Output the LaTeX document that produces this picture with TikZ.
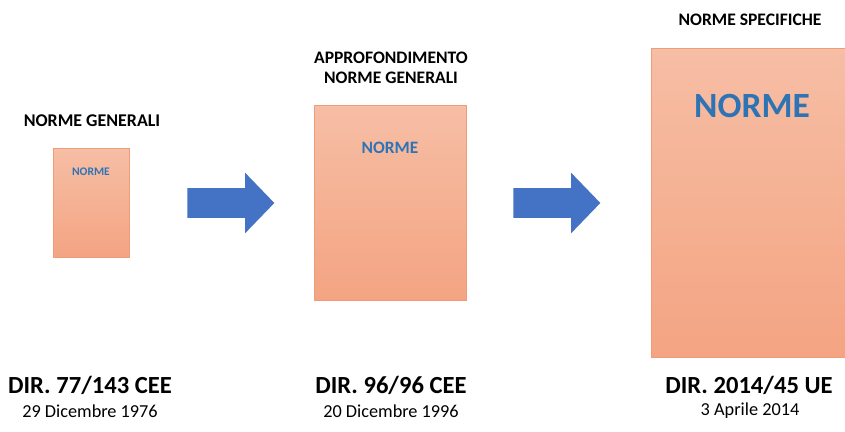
\documentclass[tikz,border=0pt]{standalone}
\usepackage{fontspec}
\setmainfont{Carlito}
\usepackage{xcolor}
\usetikzlibrary{shapes,arrows,positioning}

\definecolor{boxtop}{HTML}{F6BEA5}
\definecolor{boxbot}{HTML}{F4A482}
\definecolor{boxedge}{HTML}{EE9D78}
\definecolor{normeblue}{HTML}{2E74B5}
\definecolor{arrowblue}{HTML}{4472C4}

\begin{document}
\begin{tikzpicture}[
    x=0.02cm, y=-0.02cm,
    normebox/.style={rectangle, draw=boxedge, line width=0.4pt, top color=boxtop, bottom color=boxbot, inner sep=0pt},
    normetxt/.style={font=\bfseries, text=normeblue, inner sep=0pt},
    title/.style={font=\bfseries\fontsize{10}{11.4}\selectfont, align=center, inner sep=0pt},
    dir/.style={font=\bfseries\fontsize{14}{16}\selectfont, inner sep=0pt},
    date/.style={font=\fontsize{10.4}{12}\selectfont, inner sep=0pt},
    bigarrow/.style={single arrow, fill=arrowblue, draw=none, inner xsep=0pt, inner ysep=0.29cm,
        minimum height=1.74cm, single arrow head extend=0.31cm, single arrow tip angle=92, anchor=tail}
]
\useasboundingbox (0,0) rectangle (845,432);

% Boxes
\node[normebox, minimum width=1.52cm, minimum height=2.18cm] (box1) at (91,202.5) {};
\node[normebox, minimum width=3.04cm, minimum height=3.9cm] (box2) at (390,202.5) {};
\node[normebox, minimum width=3.9cm, minimum height=6.18cm] (box3) at (748.5,202.5) {};

% Text inside boxes
\node[normetxt, font=\bfseries\fontsize{6.6}{8}\selectfont] (norme1) at (91,172) {NORME};
\node[normetxt, font=\bfseries\fontsize{9.9}{12}\selectfont] (norme2) at (390,148) {NORME};
\node[normetxt, font=\bfseries\fontsize{20.2}{24}\selectfont] (norme3) at (752,106) {NORME};

% Titles
\node[title, font=\bfseries\fontsize{10.2}{12}\selectfont] (title1) at (92,121) {NORME GENERALI};
\node[title] (title2) at (391,68) {APPROFONDIMENTO\\NORME GENERALI};
\node[title] (title3) at (750,20) {NORME SPECIFICHE};

% Arrows
\node[bigarrow] (arrow1) at (187,203) {};
\node[bigarrow] (arrow2) at (513,203) {};

% Directives
\node[dir] (dir1) at (90,385) {DIR. 77/143 CEE};
\node[dir] (dir2) at (391,385) {DIR. 96/96 CEE};
\node[dir] (dir3) at (749,385) {DIR. 2014/45 UE};
\node[date] (date1) at (90,411) {29 Dicembre 1976};
\node[date] (date2) at (391,411) {20 Dicembre 1996};
\node[date] (date3) at (750,411) {3 Aprile 2014};

\end{tikzpicture}
\end{document}
